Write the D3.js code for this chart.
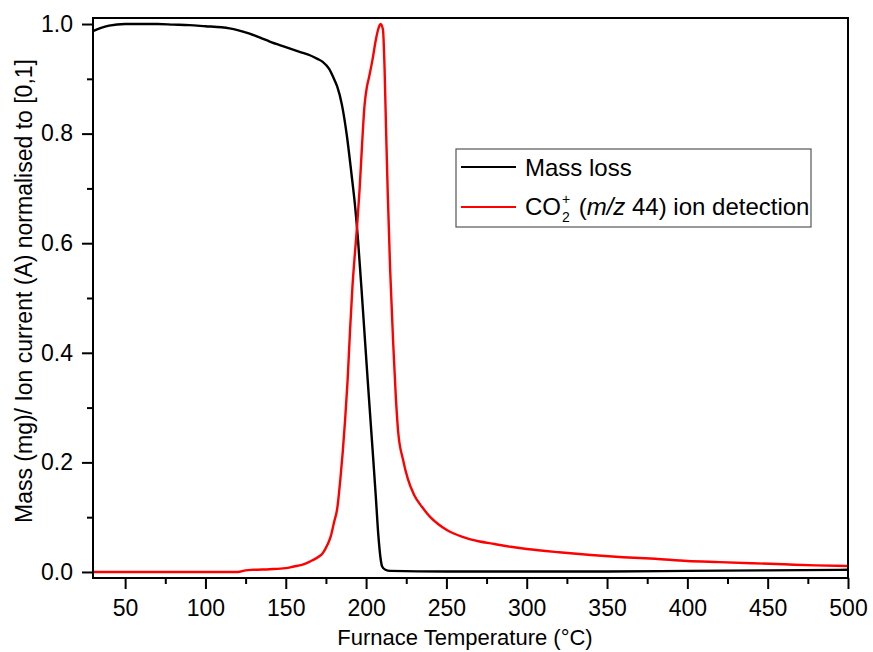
<!DOCTYPE html>
<html>
<head>
<meta charset="utf-8">
<script src="https://cdn.jsdelivr.net/npm/d3@7"></script>
<style>
  html, body { margin: 0; padding: 0; background: #fff; }
  svg { display: block; font-family: "Liberation Sans", Arial, sans-serif; }
</style>
</head>
<body>
<svg id="chart" width="873" height="652"></svg>
<script>
// ---- Data ----
const massTemp = [30, 35, 40, 50, 60, 70, 80, 90, 100, 110, 115, 120, 127, 135, 140, 150, 160, 165, 170, 173, 177, 180, 182, 185, 188, 191, 193, 195, 198, 201, 204, 206, 207.6, 209, 210, 212, 215, 250, 300, 350, 400, 450, 500];
const massVals = [0.987, 0.993, 0.997, 1.0, 1.0, 1.0, 0.999, 0.998, 0.996, 0.994, 0.992, 0.989, 0.983, 0.974, 0.968, 0.958, 0.948, 0.943, 0.936, 0.931, 0.918, 0.900, 0.886, 0.852, 0.797, 0.724, 0.672, 0.605, 0.48, 0.35, 0.225, 0.14, 0.068, 0.025, 0.010, 0.004, 0.002, 0.001, 0.001, 0.001, 0.002, 0.003, 0.004];

const ionTemp = [30, 50, 80, 100, 120, 125, 130, 140, 150, 155, 160, 165, 170, 173, 176, 178, 180, 182, 184, 185.5, 187, 188.5, 190, 191.5, 193, 194.5, 196, 197.5, 199, 200.5, 202, 204, 206, 207.5, 209, 210.5, 211.5, 212.5, 213.5, 215, 217, 218.5, 220, 223, 226, 230, 235, 240, 245, 250, 260, 270, 280, 290, 300, 320, 340, 360, 380, 400, 420, 440, 460, 480, 500];
const ionVals = [0.000, 0.000, 0.000, 0.000, 0.000, 0.003, 0.004, 0.005, 0.007, 0.010, 0.013, 0.019, 0.027, 0.034, 0.050, 0.065, 0.090, 0.115, 0.170, 0.22, 0.28, 0.35, 0.44, 0.52, 0.58, 0.635, 0.70, 0.78, 0.85, 0.885, 0.905, 0.935, 0.97, 0.99, 1.0, 0.99, 0.92, 0.80, 0.69, 0.55, 0.41, 0.32, 0.255, 0.205, 0.17, 0.14, 0.118, 0.10, 0.087, 0.077, 0.064, 0.056, 0.051, 0.046, 0.042, 0.036, 0.031, 0.027, 0.024, 0.020, 0.018, 0.016, 0.014, 0.012, 0.011];

const xMajorTicks = [50, 100, 150, 200, 250, 300, 350, 400, 450, 500];
const xMinorTicks = [75, 125, 175, 225, 275, 325, 375, 425, 475];
const yMajorTicks = [0.0, 0.2, 0.4, 0.6, 0.8, 1.0];
const yMinorTicks = [0.1, 0.3, 0.5, 0.7, 0.9];

const seriesNames = ["Mass loss", "CO2+ (m/z 44) ion detection"];
const seriesColors = ["#000000", "#ff0000"];
const xTitle = "Furnace Temperature (\u00B0C)";
const yTitle = "Mass (mg)/ Ion current (A) normalised to [0,1]";

// ---- Layout ----
const svg = d3.select("#chart");
const mLeft = 93, mTop = 18, mRight = 848, mBottom = 578;
const W = mRight - mLeft, H = mBottom - mTop;

const x = d3.scaleLinear().domain([30, 500]).range([0, W]);
const y = d3.scaleLinear().domain([-0.011, 1.011]).range([H, 0]);

const g = svg.append("g").attr("transform", `translate(${mLeft},${mTop})`);

// Lines
const line = d3.line().x(d => x(d[0])).y(d => y(d[1])).curve(d3.curveMonotoneX);
const massData = massTemp.map((t, i) => [t, massVals[i]]);
const ionData = ionTemp.map((t, i) => [t, ionVals[i]]);

g.append("path").datum(massData).attr("d", line)
  .attr("fill", "none").attr("stroke", seriesColors[0]).attr("stroke-width", 2.4).attr("stroke-linejoin", "round");
g.append("path").datum(ionData).attr("d", line)
  .attr("fill", "none").attr("stroke", seriesColors[1]).attr("stroke-width", 2.4).attr("stroke-linejoin", "round");

// Axes
const tickFont = 23;
const xAxis = g.append("g").attr("transform", `translate(0,${H})`)
  .call(d3.axisBottom(x).tickValues(xMajorTicks).tickSize(11).tickSizeOuter(0).tickPadding(11).tickFormat(d3.format("d")));
const xMinor = g.append("g").attr("transform", `translate(0,${H})`)
  .call(d3.axisBottom(x).tickValues(xMinorTicks).tickSize(6).tickSizeOuter(0).tickFormat(""));
const yAxis = g.append("g")
  .call(d3.axisLeft(y).tickValues(yMajorTicks).tickSize(11).tickSizeOuter(0).tickPadding(9).tickFormat(d3.format(".1f")));
const yMinor = g.append("g")
  .call(d3.axisLeft(y).tickValues(yMinorTicks).tickSize(6).tickSizeOuter(0).tickFormat(""));

[xAxis, xMinor, yAxis, yMinor].forEach(a => {
  a.select(".domain").remove();
  a.selectAll(".tick line").attr("stroke", "#000").attr("stroke-width", 2);
  a.selectAll(".tick text").attr("font-size", tickFont).attr("fill", "#000")
    .attr("font-family", "'Liberation Sans', Arial, sans-serif");
});

// Frame
g.append("rect").attr("x", 0).attr("y", 0).attr("width", W).attr("height", H)
  .attr("fill", "none").attr("stroke", "#000").attr("stroke-width", 2);

// Axis titles
svg.append("text").attr("x", 465).attr("y", 645).attr("text-anchor", "middle")
  .attr("font-size", 22).attr("fill", "#000").text(xTitle);
svg.append("text").attr("transform", `translate(32,${(mTop + mBottom) / 2 - 7}) rotate(-90)`)
  .attr("text-anchor", "middle").attr("font-size", 23).attr("fill", "#000").text(yTitle);

// Legend
const lg = svg.append("g");
lg.append("rect").attr("x", 456).attr("y", 149).attr("width", 355).attr("height", 78)
  .attr("fill", "#fff").attr("stroke", "#555").attr("stroke-width", 1.2);
const legY = [167, 207];
lg.append("line").attr("x1", 461).attr("x2", 516).attr("y1", legY[0]).attr("y2", legY[0])
  .attr("stroke", seriesColors[0]).attr("stroke-width", 2);
lg.append("line").attr("x1", 461).attr("x2", 516).attr("y1", legY[1]).attr("y2", legY[1])
  .attr("stroke", seriesColors[1]).attr("stroke-width", 2);
const legFont = 24;
lg.append("text").attr("x", 525).attr("y", legY[0] + 8.5).attr("font-size", legFont).text(seriesNames[0]);

// CO2+ with stacked super/subscript
const t1 = lg.append("text").attr("x", 525).attr("y", legY[1] + 8).attr("font-size", legFont).text("CO");
const coW = t1.node().getComputedTextLength();
const sx = 525 + coW + 1;
lg.append("text").attr("x", sx).attr("y", legY[1] - 3).attr("font-size", 14).text("+");
lg.append("text").attr("x", sx).attr("y", legY[1] + 15).attr("font-size", 14).text("2");
const rest = lg.append("text").attr("x", sx + 10).attr("y", legY[1] + 8).attr("font-size", legFont);
rest.append("tspan").text("\u00A0(");
rest.append("tspan").attr("font-style", "italic").text("m/z");
rest.append("tspan").text(" 44) ion detection");
</script>
</body>
</html>
